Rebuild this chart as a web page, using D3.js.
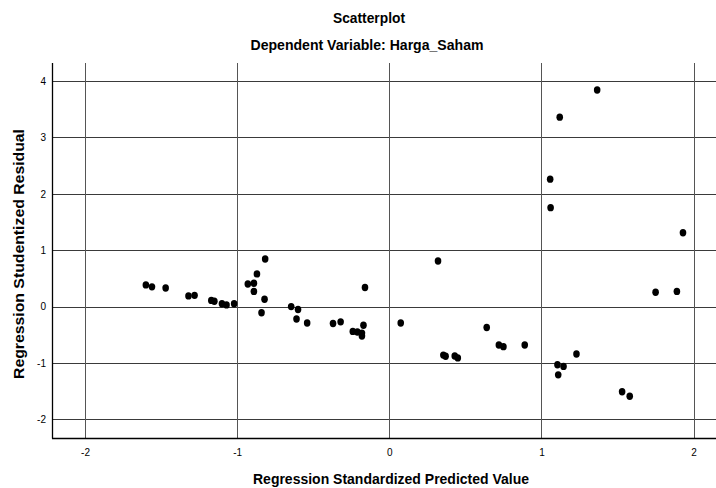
<!DOCTYPE html>
<html><head><meta charset="utf-8">
<script src="https://cdn.jsdelivr.net/npm/d3@7"></script>
<style>body{margin:0;background:#fff}svg{display:block}</style>
</head><body>
<script>
const predicted = [-1.60,-1.56,-1.47,-1.32,-1.28,-1.17,-1.15,-1.10,-1.07,-1.02,-0.93,-0.89,-0.87,-0.89,-0.816,-0.82,-0.84,-0.645,-0.60,-0.61,-0.54,-0.37,-0.32,-0.16,-0.24,-0.21,-0.17,-0.18,-0.18,0.075,0.32,0.355,0.37,0.43,0.45,0.64,0.72,0.75,0.89,1.366,1.12,1.057,1.06,1.105,1.145,1.11,1.23,1.53,1.58,1.75,1.89,1.93];
const residual = [0.385,0.35,0.33,0.19,0.20,0.11,0.095,0.05,0.03,0.05,0.40,0.415,0.58,0.27,0.845,0.13,-0.11,0.0,-0.05,-0.22,-0.29,-0.30,-0.27,0.34,-0.44,-0.45,-0.33,-0.47,-0.52,-0.29,0.81,-0.86,-0.88,-0.875,-0.91,-0.37,-0.68,-0.71,-0.68,3.84,3.36,2.26,1.755,-1.03,-1.06,-1.21,-0.84,-1.51,-1.59,0.255,0.27,1.31];
const xTicks = [-2,-1,0,1,2];
const yTicks = [-2,-1,0,1,2,3,4];
const title = "Scatterplot";
const subtitle = "Dependent Variable: Harga_Saham";
const xTitle = "Regression Standardized Predicted Value";
const yTitle = "Regression Studentized Residual";

(function(){
const W = 716, H = 488;
const svg = d3.select("body").append("svg").attr("width", W).attr("height", H);
const pL = 52, pR = 716, pT = 63, pB = 438;
const x = d3.scaleLinear().domain([-2.217, 2.147]).range([pL, pR]);
const y = d3.scaleLinear().domain([-2.33, 4.32]).range([pB, pT]);
const font = "'Liberation Sans',Arial,sans-serif";

svg.append("g").selectAll("line").data(yTicks).join("line")
  .attr("x1", pL).attr("x2", pR)
  .attr("y1", d => Math.round(y(d)) + 0.5).attr("y2", d => Math.round(y(d)) + 0.5)
  .attr("stroke", "#3a3a3a").attr("stroke-width", 1);
svg.append("g").selectAll("line").data(xTicks).join("line")
  .attr("y1", pT).attr("y2", pB)
  .attr("x1", d => Math.round(x(d)) + 0.5).attr("x2", d => Math.round(x(d)) + 0.5)
  .attr("stroke", "#555").attr("stroke-width", 1);

const fmt = d => String(d);
const xAxis = svg.append("g").attr("transform", `translate(0,${pB})`)
  .call(d3.axisBottom(x).tickValues(xTicks).tickSize(0).tickPadding(11).tickFormat(fmt));
const yAxis = svg.append("g").attr("transform", `translate(${pL},0)`)
  .call(d3.axisLeft(y).tickValues(yTicks).tickSize(0).tickPadding(6).tickFormat(fmt));
[xAxis, yAxis].forEach(a => {
  a.select(".domain").remove();
  a.selectAll("text").attr("font-family", font).attr("font-size", 10).attr("fill", "#000");
});
svg.append("line").attr("x1", pL + 0.5).attr("x2", pL + 0.5).attr("y1", pT).attr("y2", pB + 0.5)
  .attr("stroke", "#000").attr("stroke-width", 1.3);
svg.append("line").attr("x1", pL).attr("x2", pR).attr("y1", pB + 0.5).attr("y2", pB + 0.5)
  .attr("stroke", "#000").attr("stroke-width", 1.3);

svg.append("g").selectAll("ellipse").data(predicted.map((p, i) => [p, residual[i]])).join("ellipse")
  .attr("cx", d => x(d[0])).attr("cy", d => y(d[1]))
  .attr("rx", 3.3).attr("ry", 3.7).attr("fill", "#000");

svg.append("text").attr("x", 369).attr("y", 23).attr("text-anchor", "middle")
  .attr("font-family", font).attr("font-size", 14).attr("font-weight", "bold")
  .attr("textLength", 72).attr("lengthAdjust", "spacingAndGlyphs").text(title);
svg.append("text").attr("x", 367).attr("y", 50).attr("text-anchor", "middle")
  .attr("font-family", font).attr("font-size", 14).attr("font-weight", "bold")
  .attr("textLength", 233).attr("lengthAdjust", "spacingAndGlyphs").text(subtitle);
svg.append("text").attr("x", 391).attr("y", 484).attr("text-anchor", "middle")
  .attr("font-family", font).attr("font-size", 15).attr("font-weight", "bold")
  .attr("textLength", 276).attr("lengthAdjust", "spacingAndGlyphs").text(xTitle);
svg.append("text").attr("transform", "translate(24,254) rotate(-90)").attr("text-anchor", "middle")
  .attr("font-family", font).attr("font-size", 15).attr("font-weight", "bold")
  .attr("textLength", 250).attr("lengthAdjust", "spacingAndGlyphs").text(yTitle);
})();
</script>
</body></html>
